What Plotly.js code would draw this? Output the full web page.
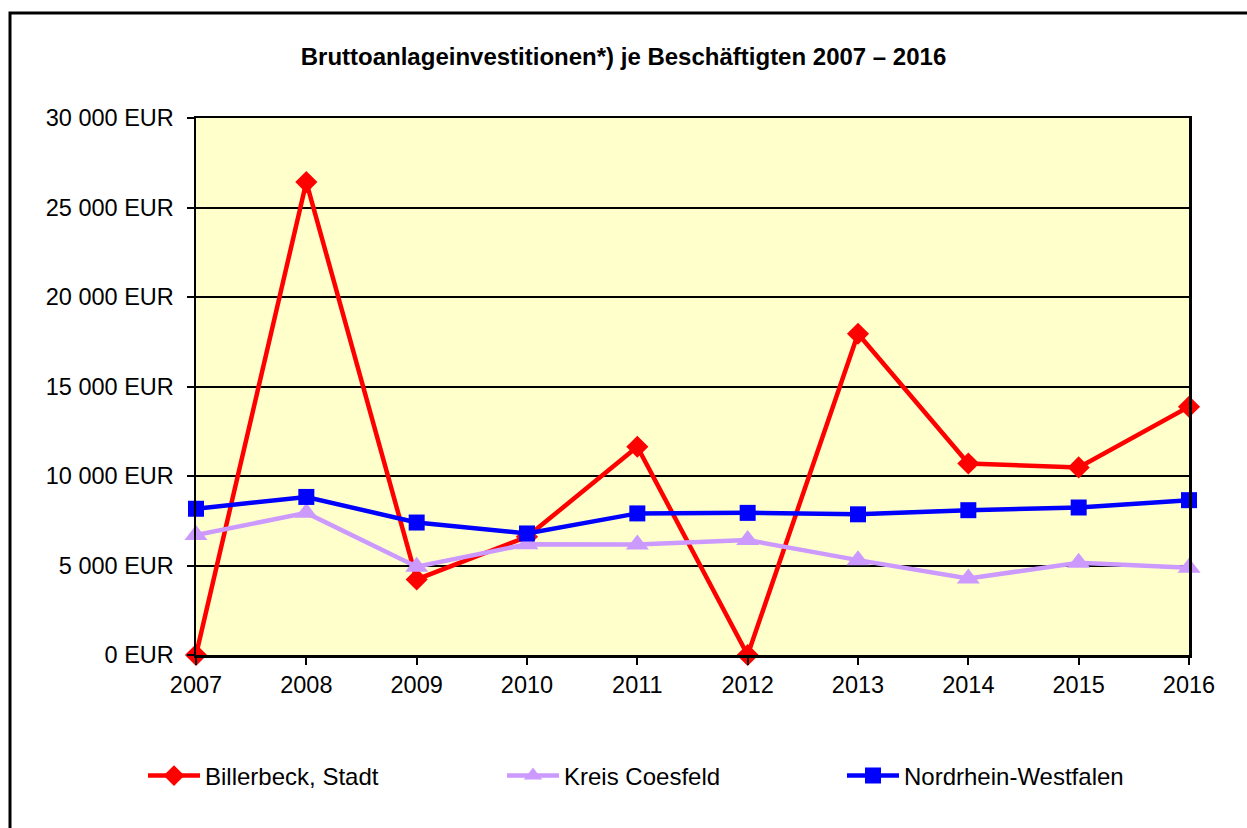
<!DOCTYPE html>
<html>
<head>
<meta charset="utf-8">
<script src="https://cdn.plot.ly/plotly-3.0.1.min.js"></script>
<style>
  html, body { margin: 0; padding: 0; background: #ffffff; }
  #chart { width: 1247px; height: 828px; }
</style>
</head>
<body>
<div id="chart"></div>
<script>
// ---- Data ----
const years = [2007, 2008, 2009, 2010, 2011, 2012, 2013, 2014, 2015, 2016];
const billerbeck = [0, 26420, 4220, 6600, 11630, 0, 17950, 10700, 10480, 13870];
const kreisCoesfeld = [6700, 7940, 4930, 6190, 6180, 6420, 5300, 4280, 5150, 4880];
const nrw = [8170, 8830, 7400, 6790, 7910, 7940, 7860, 8090, 8240, 8650];

const seriesNames = ['Billerbeck, Stadt', 'Kreis Coesfeld', 'Nordrhein-Westfalen'];
const yTickVals = [0, 5000, 10000, 15000, 20000, 25000, 30000];
const yTickText = ['0 EUR', '5 000 EUR', '10 000 EUR', '15 000 EUR', '20 000 EUR', '25 000 EUR', '30 000 EUR'];
const titleText = 'Bruttoanlageinvestitionen*) je Beschäftigten 2007 – 2016';

// ---- Chart ----
const FONT = 'Liberation Sans, Arial, sans-serif';
const W = 1247, H = 828;
const L = 196, R = 1189, T = 118, B = 655;
const pw = R - L, ph = B - T;
const px = v => (v - L) / pw;
const py = v => (B - v) / ph;

const traces = [
  {
    x: years, y: billerbeck, name: seriesNames[0], type: 'scatter', mode: 'lines+markers',
    line: { color: '#FF0000', width: 4.5 },
    marker: { symbol: 'diamond', size: 17, color: '#FF0000' },
    cliponaxis: false, legend: 'legend'
  },
  {
    x: years, y: kreisCoesfeld, name: seriesNames[1], type: 'scatter', mode: 'lines+markers',
    line: { color: '#CC99FF', width: 4.5 },
    marker: { symbol: 'triangle-up', size: 20, color: '#CC99FF' },
    cliponaxis: false, legend: 'legend2'
  },
  {
    x: years, y: nrw, name: seriesNames[2], type: 'scatter', mode: 'lines+markers',
    line: { color: '#0000FF', width: 4.5 },
    marker: { symbol: 'square', size: 16, color: '#0000FF' },
    cliponaxis: false, legend: 'legend3'
  }
];

function legendAt(xPix) {
  return {
    orientation: 'h',
    x: px(xPix), xanchor: 'left',
    y: py(776), yanchor: 'middle',
    font: { family: FONT, size: 24, color: '#000000' },
    itemwidth: 52,
    bgcolor: 'rgba(0,0,0,0)', borderwidth: 0
  };
}

const layout = {
  width: W, height: H,
  margin: { l: L, r: W - R, t: T, b: H - B, pad: 0 },
  paper_bgcolor: '#FFFFFF',
  plot_bgcolor: '#FFFFCC',
  font: { family: FONT, size: 24, color: '#000000' },
  showlegend: true,
  title: {
    text: '<b>' + titleText + '</b>',
    font: { family: FONT, size: 24, color: '#000000' },
    x: 0.5, xref: 'container', xanchor: 'center',
    y: 1 - 57 / H, yref: 'container', yanchor: 'middle'
  },
  xaxis: {
    type: 'linear',
    range: [2007, 2016],
    tickmode: 'array', tickvals: years, ticktext: years.map(String),
    ticks: 'outside', ticklen: 7, tickwidth: 2, tickcolor: '#000000',
    showline: true, linecolor: '#000000', linewidth: 2.5, mirror: true,
    showgrid: false, zeroline: false,
    tickfont: { family: FONT, size: 23.5, color: '#000000' },
    fixedrange: true
  },
  yaxis: {
    range: [0, 30000],
    tickmode: 'array', tickvals: yTickVals, ticktext: yTickText,
    ticks: 'outside', ticklen: 7, tickwidth: 2, tickcolor: '#000000',
    ticklabelstandoff: 8,
    showline: true, linecolor: '#000000', linewidth: 2.5, mirror: true,
    showgrid: true, gridcolor: '#000000', gridwidth: 2,
    zeroline: false,
    tickfont: { family: FONT, size: 23.5, color: '#000000' },
    fixedrange: true
  },
  legend: legendAt(143),
  legend2: legendAt(502),
  legend3: legendAt(842),
  shapes: [
    {
      type: 'rect', xref: 'paper', yref: 'paper',
      x0: px(10), x1: px(1260), y0: py(840), y1: py(13),
      line: { color: '#000000', width: 3 }, fillcolor: 'rgba(0,0,0,0)',
      layer: 'above'
    }
  ]
};

Plotly.newPlot('chart', traces, layout, { displayModeBar: false, staticPlot: true });
</script>
</body>
</html>
